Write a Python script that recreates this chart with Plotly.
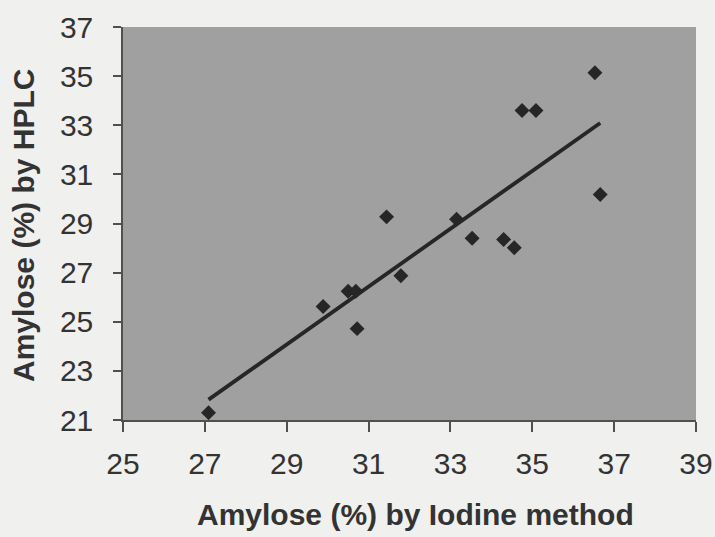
import numpy as np
import plotly.graph_objects as go

# Amylose content of each sample measured by two methods
iodine_pct = [36.53, 34.75, 35.09, 36.66, 31.44, 33.15, 33.53, 34.30,
              34.56, 31.79, 30.50, 30.69, 29.89, 30.72, 27.09]
hplc_pct = [35.14, 33.60, 33.60, 30.18, 29.27, 29.17, 28.40, 28.35,
            28.01, 26.87, 26.24, 26.24, 25.62, 24.72, 21.30]

x_ticks = [25, 27, 29, 31, 33, 35, 37, 39]
y_ticks = [21, 23, 25, 27, 29, 31, 33, 35, 37]

x_title = "Amylose (%) by Iodine method"
y_title = "Amylose (%) by HPLC"

# Least-squares trend line over the range of the data
slope, intercept = np.polyfit(iodine_pct, hplc_pct, 1)
fit_x = np.array([min(iodine_pct), max(iodine_pct)])
fit_y = slope * fit_x + intercept

ink = "#262626"
axis_col = "#505050"
font_family = "Liberation Sans, Arial, sans-serif"

fig = go.Figure()
fig.add_trace(go.Scatter(
    x=fit_x, y=fit_y, mode="lines",
    line=dict(color=ink, width=3.8), hoverinfo="skip", showlegend=False))
fig.add_trace(go.Scatter(
    x=iodine_pct, y=hplc_pct, mode="markers",
    marker=dict(symbol="diamond", size=11.5, color=ink, line=dict(width=0)),
    showlegend=False))

axis_common = dict(
    showgrid=False, zeroline=False, showline=True, linecolor=axis_col,
    linewidth=1.5, ticks="outside", tickcolor=axis_col, tickwidth=1.5,
    tickfont=dict(family=font_family, size=30, color="#333333"),
    mirror=False, automargin=False,
)

fig.update_layout(
    width=715, height=537,
    margin=dict(l=123, r=19, t=27, b=117),
    paper_bgcolor="#f0f0ee",
    plot_bgcolor="#a0a0a0",
    xaxis=dict(range=[25, 39], tickvals=x_ticks, ticklen=10,
               ticklabelstandoff=6, **axis_common),
    yaxis=dict(range=[21, 37], tickvals=y_ticks, ticklen=8,
               ticklabelstandoff=14, **axis_common),
    annotations=[
        dict(text=f"<b>{x_title}</b>", xref="paper", yref="paper",
             x=(415 - 123) / 573, y=(420 - 514) / 393,
             xanchor="center", yanchor="middle", showarrow=False,
             font=dict(family=font_family, size=30, color="#333333")),
        dict(text=f"<b>{y_title}</b>", xref="paper", yref="paper",
             x=(24 - 123) / 573, y=(420 - 226) / 393, textangle=-90,
             xanchor="center", yanchor="middle", showarrow=False,
             font=dict(family=font_family, size=30, color="#333333")),
    ],
)

fig.write_html("out.html")
